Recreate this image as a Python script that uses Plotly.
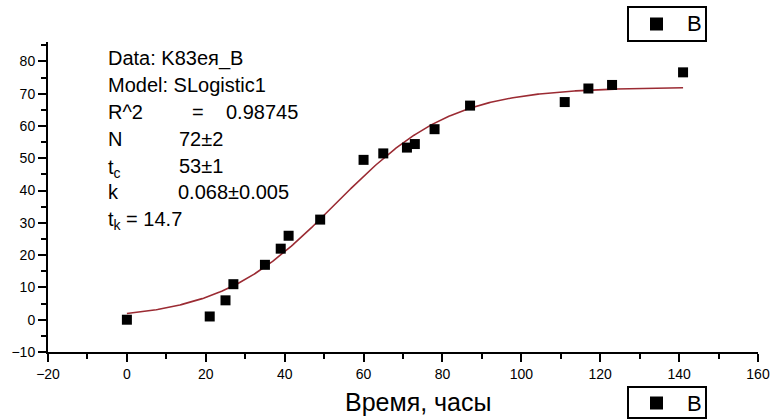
import numpy as np
import plotly.graph_objects as go

# Measured points: time (hours) vs. B
time_h = [0, 21, 25, 27, 35, 39, 41, 49, 60, 65, 71, 73, 78, 87, 111, 117, 123, 141]
b_vals = [0, 1, 6, 11, 17, 22, 26, 31, 49.5, 51.5, 53.3, 54.4, 59, 66.3, 67.4, 71.6, 72.7, 76.6]

# SLogistic1 fit: y = N / (1 + exp(-k (t - tc)))
fit_N, fit_N_err = 72, 2
fit_tc, fit_tc_err = 53, 1
fit_k, fit_k_err = 0.068, 0.005
r_squared = 0.98745
t_k = 14.7
fit_t_range = [0, 141]

x_ticks = [-20, 0, 20, 40, 60, 80, 100, 120, 140, 160]
y_ticks = [-10, 0, 10, 20, 30, 40, 50, 60, 70, 80]

fit_t = np.linspace(fit_t_range[0], fit_t_range[1], 400)
fit_y = fit_N / (1 + np.exp(-fit_k * (fit_t - fit_tc)))

# Figure geometry (pixels)
W, H = 771, 419
ML, MR, MT, MB = 48, 13, 42, 67
PW, PH = W - ML - MR, H - MT - MB


def px_x(px):
    return (px - ML) / PW


def px_y(py):
    return (H - MB - py) / PH


FONT = "Liberation Sans, Arial, sans-serif"

fig = go.Figure()
fig.add_trace(go.Scatter(
    x=fit_t, y=fit_y, mode="lines",
    line=dict(color="#9b2b33", width=1.6),
    showlegend=False, hoverinfo="skip",
))
fig.add_trace(go.Scatter(
    x=time_h, y=b_vals, mode="markers", name="B",
    marker=dict(symbol="square", size=10, color="black"),
    showlegend=False,
))

axis_common = dict(
    showline=True, linecolor="black", linewidth=2,
    ticks="outside", ticklen=8, tickwidth=1.5, tickcolor="black",
    showgrid=False, zeroline=False, automargin=False,
    tickfont=dict(family=FONT, size=14, color="black"),
)
fig.update_xaxes(
    range=[-20, 160], tickvals=x_ticks,
    minor=dict(dtick=10, tick0=0, ticks="outside", ticklen=5, tickwidth=1.5, tickcolor="black"),
    **axis_common,
)
fig.update_yaxes(
    range=[-10, 86], tickvals=y_ticks,
    minor=dict(dtick=5, tick0=0, ticks="outside", ticklen=5, tickwidth=1.5, tickcolor="black"),
    **axis_common,
)

annotations = []

# Fit report text: (text, left edge px, vertical centre px)
report_lines = [
    ("Data: K83ея_B", 106, 58),
    ("Model: SLogistic1", 106, 85),
    ("R^2", 106, 112),
    ("=", 190, 112),
    (f"{r_squared}", 224, 112),
    ("N", 106, 139),
    (f"{fit_N}±{fit_N_err}", 177, 139),
    ("t<sub>c</sub>", 106, 168),
    (f"{fit_tc}±{fit_tc_err}", 177, 166),
    ("k", 106, 192),
    (f"{fit_k}±{fit_k_err}", 176, 192),
    (f"t<sub>k</sub> = {t_k}", 106, 220),
]
for text, px, py in report_lines:
    annotations.append(dict(
        x=px_x(px), y=px_y(py), xref="paper", yref="paper",
        xanchor="left", yanchor="middle", text=text, showarrow=False,
        font=dict(family=FONT, size=20, color="black"),
    ))

# X axis title
annotations.append(dict(
    x=px_x(418), y=px_y(402), xref="paper", yref="paper",
    xanchor="center", yanchor="middle", text="Время, часы", showarrow=False,
    font=dict(family=FONT, size=25, color="black"),
))

# Legend boxes (top right and below the axis)
shapes = []
for top, bottom, cy in [(7, 41, 24), (387, 418, 403)]:
    shapes.append(dict(
        type="rect", xref="paper", yref="paper",
        x0=px_x(628), x1=px_x(706), y0=px_y(bottom), y1=px_y(top),
        line=dict(color="black", width=2), fillcolor="white", layer="above",
    ))
    shapes.append(dict(
        type="rect", xref="paper", yref="paper",
        x0=px_x(650), x1=px_x(663), y0=px_y(cy + 6.5), y1=px_y(cy - 6.5),
        line=dict(color="black", width=0), fillcolor="black", layer="above",
    ))
    annotations.append(dict(
        x=px_x(694), y=px_y(cy), xref="paper", yref="paper",
        xanchor="center", yanchor="middle", text="B", showarrow=False,
        font=dict(family=FONT, size=22, color="black"),
    ))

fig.update_layout(
    width=W, height=H, autosize=False,
    margin=dict(l=ML, r=MR, t=MT, b=MB),
    plot_bgcolor="white", paper_bgcolor="white",
    annotations=annotations, shapes=shapes,
    showlegend=False,
)

fig.write_html("out.html")
